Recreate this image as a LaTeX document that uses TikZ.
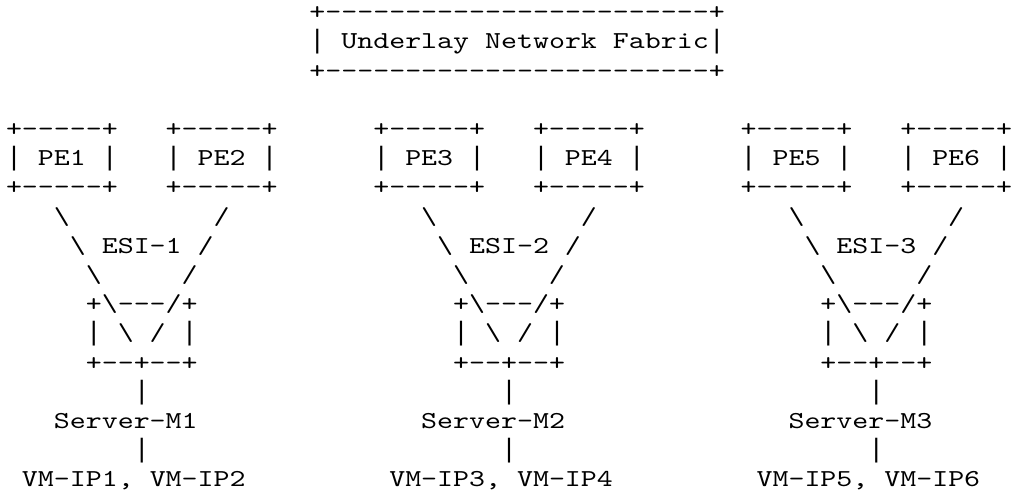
\documentclass[tikz,border=0pt]{standalone}
\usepackage{fontspec}
\setmonofont{lmmono10-regular}[Extension=.otf, FakeStretch=1.25]
\newfontfamily\barfont{Liberation Mono}
\newcommand\vbar{{\barfont\fontsize{26.62}{29.2}\selectfont|}}
\tikzset{asc/.style={anchor=base west, inner sep=0pt, outer sep=0pt,
  font=\ttfamily\fontsize{24.34}{29.2}\selectfont, text=black}}
\newcommand\asciitxt[4]{\node[asc] (#1) at ({6+15.97*(#2)},{475.2-29.2*(#3)}) {#4};}
\begin{document}
\begin{tikzpicture}[x=1pt,y=1pt]
\useasboundingbox (0,0) rectangle (1013,495);
% underlay fabric
\asciitxt{fabtop}{19}{0}{+------------------------+}
\asciitxt{fab}{19}{1}{\vbar{} Underlay Network Fabric\vbar}
\asciitxt{fabbot}{19}{2}{+------------------------+}
\foreach \g/\a/\b/\n/\va/\vb in {0/1/2/1/1/2, 23/3/4/2/3/4, 46/5/6/3/5/6}{
  \asciitxt{pe\a top}{\g}{4}{+-----+}
  \asciitxt{pe\a}{\g}{5}{\vbar{} PE\a{} \vbar}
  \asciitxt{pe\a bot}{\g}{6}{+-----+}
  \asciitxt{pe\b top}{\g+10}{4}{+-----+}
  \asciitxt{pe\b}{\g+10}{5}{\vbar{} PE\b{} \vbar}
  \asciitxt{pe\b bot}{\g+10}{6}{+-----+}
  \asciitxt{la\n}{\g+3}{7}{\textbackslash}
  \asciitxt{ra\n}{\g+13}{7}{/}
  \asciitxt{esi\n}{\g+4}{8}{\textbackslash{} ESI-\n{} /}
  \asciitxt{lb\n}{\g+5}{9}{\textbackslash}
  \asciitxt{rb\n}{\g+11}{9}{/}
  \asciitxt{swt\n}{\g+5}{10}{+\textbackslash---/+}
  \asciitxt{swm\n}{\g+5}{11}{\vbar{} \textbackslash{} / \vbar}
  \asciitxt{swb\n}{\g+5}{12}{+--+--+}
  \asciitxt{va\n}{\g+8}{13}{\vbar}
  \asciitxt{srv\n}{\g+3}{14}{Server-M\n}
  \asciitxt{vb\n}{\g+8}{15}{\vbar}
  \asciitxt{vm\n}{\g+1}{16}{VM-IP\va, VM-IP\vb}
}
\end{tikzpicture}
\end{document}
